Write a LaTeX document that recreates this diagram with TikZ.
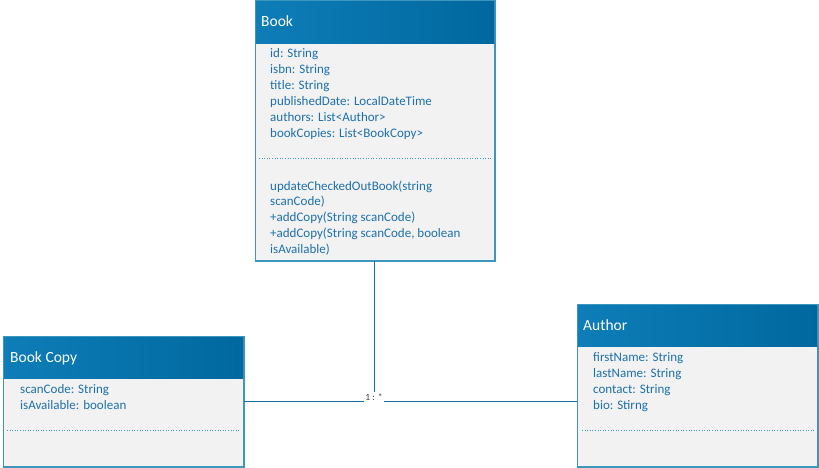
\documentclass[tikz,border=0pt]{standalone}
\usepackage{fontspec}
\setmainfont{Carlito}
\definecolor{hdrL}{RGB}{14,125,184}
\definecolor{hdrR}{RGB}{0,104,158}
\definecolor{bodyfill}{RGB}{242,242,242}
\definecolor{edge}{RGB}{60,150,190}
\definecolor{txt}{RGB}{30,112,172}
\definecolor{wire}{RGB}{20,110,160}
\tikzset{
  classbox/.style={draw=edge, line width=1pt, fill=bodyfill, anchor=north west, inner sep=0pt},
  hdr/.style={left color=hdrL, right color=hdrR, draw=none, anchor=north west, inner sep=0pt},
  ttl/.style={font=\fontsize{15.5}{18}\selectfont, text=white, anchor=base west, inner sep=0pt},
  attr/.style={font=\fontsize{13}{15}\selectfont, text=txt, anchor=base west, inner sep=0pt},
  sep/.style={draw=edge, dotted, line width=0.6pt},
  wirestyle/.style={draw=wire, line width=0.8pt},
  mult/.style={font=\fontsize{9.5}{10}\selectfont, text=black!75, inner sep=1pt}
}
\begin{document}
\begin{tikzpicture}[x=1pt,y=-1pt]
\useasboundingbox (0,0) rectangle (819,468);
% Book
\node[classbox, minimum width=239pt, minimum height=259pt] (book) at (255,1) {};
\node[hdr, minimum width=239pt, minimum height=42pt] (bookh) at (255,1) {};
\draw[edge, line width=1pt] (book.north west) rectangle (book.south east);
\node[ttl] (bookt) at (261,27) {Book};
\foreach \t [count=\i] in {id: String, isbn: String, title: String, publishedDate: LocalDateTime, authors: List<Author>, bookCopies: List<BookCopy>}
  \node[attr] (ba\i) at (270,{58+(\i-1)*16}) {\t};
\draw[sep] (259,158) -- (491,158);
\foreach \t [count=\i] in {updateCheckedOutBook(string, scanCode), +addCopy(String scanCode), {+addCopy(String scanCode, boolean}, isAvailable)}
  \node[attr] (bm\i) at (270,{190+(\i-1)*15.75}) {\t};
% Book Copy
\node[classbox, minimum width=240pt, minimum height=130pt] (copy) at (3,336) {};
\node[hdr, minimum width=240pt, minimum height=42pt] (copyh) at (3,336) {};
\draw[edge, line width=1pt] (copy.north west) rectangle (copy.south east);
\node[ttl] (copyt) at (10,362) {Book Copy};
\node[attr] (ca1) at (20,393) {scanCode: String};
\node[attr] (ca2) at (20,409) {isAvailable: boolean};
\draw[sep] (7,430) -- (240,430);
% Author
\node[classbox, minimum width=240pt, minimum height=162pt] (author) at (577,304) {};
\node[hdr, minimum width=240pt, minimum height=42pt] (authorh) at (577,304) {};
\draw[edge, line width=1pt] (author.north west) rectangle (author.south east);
\node[ttl] (authort) at (583,330) {Author};
\foreach \t [count=\i] in {firstName: String, lastName: String, contact: String, bio: Stirng}
  \node[attr] (aa\i) at (593,{361+(\i-1)*16}) {\t};
\draw[sep] (582,430) -- (814,430);
% connectors
\node[mult] (m) at (374,397) {1 : *};
\draw[wirestyle] (book.south -| m) -- (m.north);
\draw[wirestyle] (copy.east) -- (m.west |- copy.east);
\draw[wirestyle] (m.east |- copy.east) -- (author.west |- copy.east);
\end{tikzpicture}
\end{document}
